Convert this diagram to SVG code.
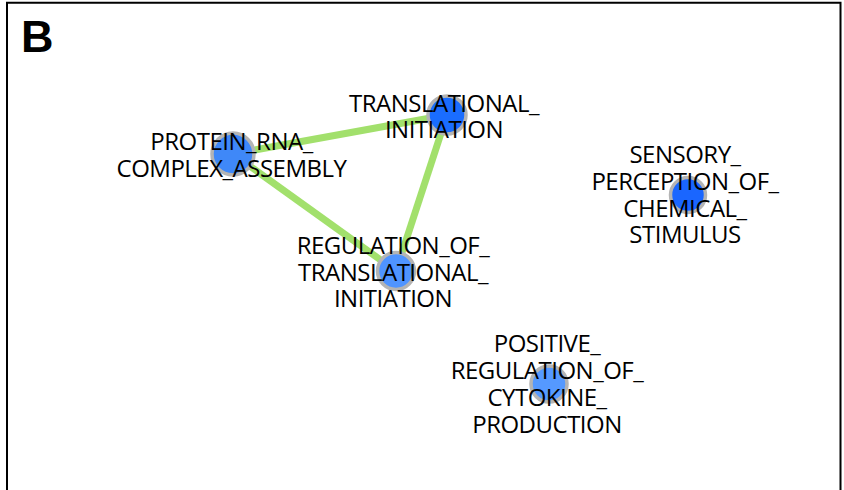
<svg xmlns="http://www.w3.org/2000/svg" width="844" height="490" viewBox="0 0 844 490">
<style>
.lbl{font-family:"Open Sans","Noto Sans","DejaVu Sans",sans-serif;font-size:24px;letter-spacing:-0.5px;fill:#000;text-anchor:middle}
.ring{stroke:#b4b4b4;stroke-width:3.5}
.edge{stroke:#a2e06c;stroke-width:7;stroke-linecap:butt;fill:none}
</style>
<rect width="844" height="490" fill="#fff"/>
<path d="M7,490 V2.8 H840.5 V490" fill="none" stroke="#000" stroke-width="2"/>
<text x="21" y="52" font-family="Liberation Sans,Arial,sans-serif" font-weight="bold" font-size="45">B</text>
<g id="connectors">
<line class="edge" x1="233" y1="154" x2="447" y2="115"/>
<line class="edge" x1="233" y1="154" x2="396" y2="271"/>
<line class="edge" x1="447" y1="115" x2="396" y2="271"/>
</g>
<g id="node-protein-rna">
<circle class="ring" cx="233" cy="154" r="21" fill="#3f88f8"/>
</g>
<g id="node-translational-initiation">
<circle class="ring" cx="447" cy="115" r="19" fill="#1a6dff"/>
</g>
<g id="node-regulation-translational">
<circle class="ring" cx="396" cy="271" r="18.5" fill="#4f94ff"/>
</g>
<g id="node-sensory">
<circle class="ring" cx="688" cy="195" r="17.5" fill="#1a66ff"/>
</g>
<g id="node-positive-cytokine">
<circle class="ring" cx="549" cy="384" r="18" fill="#5599ff"/>
</g>
<g id="labels">
<text class="lbl"><tspan x="231.5" y="150">PROTEIN_RNA_</tspan><tspan x="231.5" y="177">COMPLEX_ASSEMBLY</tspan></text>
<text class="lbl"><tspan x="444" y="112">TRANSLATIONAL_</tspan><tspan x="444" y="138">INITIATION</tspan></text>
<text class="lbl"><tspan x="393" y="254">REGULATION_OF_</tspan><tspan x="393" y="281">TRANSLATIONAL_</tspan><tspan x="393" y="307">INITIATION</tspan></text>
<text class="lbl"><tspan x="685" y="163">SENSORY_</tspan><tspan x="685" y="190">PERCEPTION_OF_</tspan><tspan x="685" y="217">CHEMICAL_</tspan><tspan x="685" y="243">STIMULUS</tspan></text>
<text class="lbl"><tspan x="547" y="352">POSITIVE_</tspan><tspan x="547" y="379">REGULATION_OF_</tspan><tspan x="547" y="406">CYTOKINE_</tspan><tspan x="547" y="433">PRODUCTION</tspan></text>
</g>
</svg>
